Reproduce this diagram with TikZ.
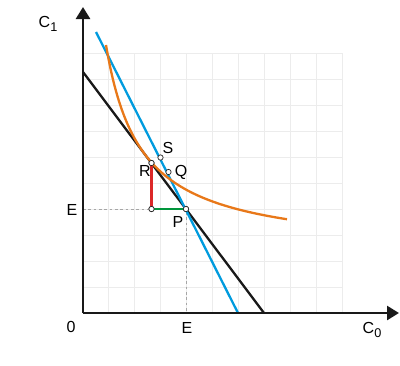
\documentclass[tikz,border=0pt]{standalone}
\usepackage{fontspec}
\setmainfont{Liberation Sans}
\usetikzlibrary{arrows.meta}
\definecolor{cblue}{RGB}{0,155,222}
\definecolor{corange}{RGB}{232,120,25}
\definecolor{cred}{RGB}{220,40,40}
\definecolor{cgreen}{RGB}{0,150,60}
\definecolor{cgrid}{RGB}{236,236,236}
\newcommand{\mysub}[1]{\raisebox{-0.45ex}{\fontsize{9.5}{10}\selectfont #1}}
\begin{document}
\begin{tikzpicture}[x=0.75pt,y=-0.75pt,
  axis/.style={line width=2.6pt*0.75, draw=black!90, -{Triangle[length=9pt,width=10.5pt]}},
  curveline/.style={line width=2.3pt*0.75},
  helper/.style={draw=gray!70, line width=0.4pt, dash pattern=on 2pt off 2pt},
  pt/.style={circle, draw=black!85, fill=white, line width=0.5pt, inner sep=0pt, minimum size=4pt},
  lab/.style={font=\fontsize{12}{14}\selectfont, inner sep=0pt}]
\useasboundingbox (0,0) rectangle (400,365);
% grid
\foreach \x in {108,134,...,342} \draw[cgrid, line width=0.4pt] (\x,53) -- (\x,313);
\foreach \y in {53,79,...,287} \draw[cgrid, line width=0.4pt] (83,\y) -- (343,\y);
% key coordinates
\coordinate (O) at (83,313);
\coordinate (ytop) at (83,7);
\coordinate (xend) at (399,313);
\coordinate (b1) at (83,72);
\coordinate (b2) at (264,313);
\coordinate (u1) at (96,32);
\coordinate (u2) at (238,313);
\coordinate (ey) at (83,209);
\coordinate (ex) at (186,313);
% dashed helpers
\node[pt] (P) at (186,209) {};
\node[pt] (L) at (151.5,209) {};
\node[pt] (R) at (151.5,163) {};
\draw[helper] (ey) -- (L);
\draw[helper] (P) -- (ex);
% lines
\draw[curveline, draw=black!90] (b1) -- (b2);
\draw[curveline, draw=cblue] (u1) -- (u2);
% indifference curve  Y = 60 + 7297/(X+12.08)
\draw[curveline, draw=corange, domain=23:204, samples=80, smooth]
  plot ({83+\x}, {313-60-7297/(\x+12.08)});
% red and green
\draw[curveline, draw=cred] (R.center) -- (L.center);
\draw[curveline, draw=cgreen] (L.center) -- (P.center);
% axes
\draw[axis] (O) -- (ytop);
\draw[axis] (O) -- (xend);
% points on top
\node[pt] at (186,209) {};
\node[pt] at (151.5,209) {};
\node[pt] at (151.5,163) {};
\node[pt] (S) at (160.5,157.5) {};
\node[pt] (Q) at (168.5,172) {};
% labels
\node[lab] (lC1) at (48,24) {C\mysub{1}};
\node[lab] (lC0) at (372,330) {C\mysub{0}};
\node[lab] (l0) at (71,327) {0};
\node[lab] (lEx) at (187,328) {E};
\node[lab] (lEy) at (72,210) {E};
\node[lab] (lR) at (145,171) {R};
\node[lab] (lS) at (168,148) {S};
\node[lab] (lQ) at (181,172) {Q};
\node[lab] (lP) at (178,222) {P};
\end{tikzpicture}
\end{document}
